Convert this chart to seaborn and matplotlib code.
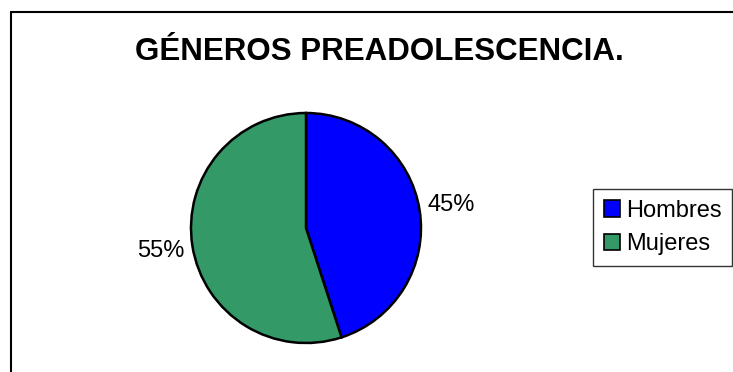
import matplotlib
matplotlib.use("Agg")
import matplotlib.pyplot as plt
import seaborn as sns
from matplotlib.lines import Line2D

categories = ["Hombres", "Mujeres"]
values = [45, 55]
colors = ["#0000FF", "#339966"]
title = "GÉNEROS PREADOLESCENCIA."

sns.set_theme(style="white")
plt.rcParams['font.family'] = ['Liberation Sans', 'DejaVu Sans']
plt.rcParams['text.color'] = 'black'

W, H = 733, 372
fig = plt.figure(figsize=(W / 100, H / 100), dpi=100)
fig.patch.set_facecolor("white")

# frame lines (left and top of chart area)
fig.add_artist(Line2D([10.5 / W, 10.5 / W], [0, 1 - 11.5 / H], transform=fig.transFigure, color="black", lw=1.5))
fig.add_artist(Line2D([10.5 / W, 1], [1 - 11.5 / H, 1 - 11.5 / H], transform=fig.transFigure, color="black", lw=1.5))

cx, cy, r = 306, 228, 115
ax = fig.add_axes([(cx - r) / W, (H - cy - r) / H, 2 * r / W, 2 * r / H])
wedges, texts, autotexts = ax.pie(
    values, colors=colors, startangle=90, counterclock=False,
    autopct="%1.0f%%", pctdistance=1.28, radius=1,
    wedgeprops=dict(edgecolor="black", linewidth=1.8),
    textprops=dict(fontsize=17, color="black"))
ax.set_xlim(-1, 1)
ax.set_ylim(-1, 1)
ax.set_aspect("auto")
ax.axis("off")

fig.text(379 / W, 1 - 52 / H, title, ha="center", va="center", fontsize=22.5,
         fontweight="bold", color="black")

leg = fig.legend(wedges, categories, loc="upper left", bbox_to_anchor=(593 / W, 1 - 189 / H),
                 frameon=True, fancybox=False, fontsize=17, handlelength=0.7, handleheight=0.7,
                 handletextpad=0.25, borderpad=0.45, labelspacing=0.5, borderaxespad=0)
leg.get_frame().set_edgecolor("black")
leg.get_frame().set_linewidth(1)
for t in leg.get_texts():
    t.set_color("black")
for h in leg.legend_handles:
    h.set_linewidth(1.2)

fig.savefig("out.png", dpi=100)
